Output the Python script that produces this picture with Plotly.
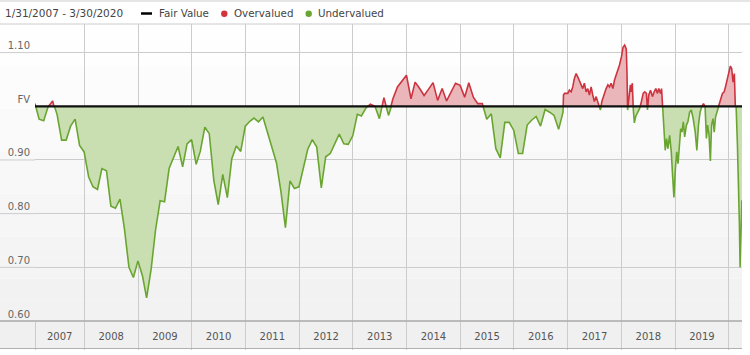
import plotly.graph_objects as go
import pandas as pd

# ---------------- data ----------------
date_range_text = "1/31/2007 - 3/30/2020"
x_start = "2007-01-31"
x_end = "2020-03-31"
fair_value = 1.0
y_min, y_max = 0.60, 1.1533

# month-end readings, Jan 2007 .. Nov 2016
monthly_first = "2007-01-31"
monthly_values = [
    1.005, 0.976, 0.973, 0.999, 1.010, 0.985, 0.937, 0.937, 0.963, 0.976, 0.927, 0.915,
    0.868, 0.850, 0.845, 0.884, 0.880, 0.814, 0.810, 0.827, 0.772, 0.700, 0.681, 0.712,
    0.684, 0.643, 0.697, 0.770, 0.824, 0.822, 0.884, 0.906, 0.925, 0.887, 0.930, 0.938,
    0.892, 0.916, 0.961, 0.949, 0.862, 0.817, 0.873, 0.830, 0.902, 0.926, 0.916, 0.963,
    0.972, 0.978, 0.971, 0.980, 0.952, 0.924, 0.895, 0.840, 0.774, 0.861, 0.847, 0.850,
    0.884, 0.920, 0.938, 0.924, 0.848, 0.906, 0.912, 0.930, 0.948, 0.930, 0.929, 0.945,
    0.985, 0.982, 0.997, 1.004, 1.000, 0.977, 1.016, 0.983, 1.014, 1.036, 1.048, 1.058,
    1.014, 1.045, 1.033, 1.020, 1.032, 1.044, 1.011, 1.033, 1.010, 1.027, 1.043, 1.039,
    1.017, 1.044, 1.017, 1.005, 1.005, 0.976, 0.986, 0.921, 0.904, 0.970, 0.970, 0.955,
    0.912, 0.912, 0.965, 0.974, 0.981, 0.963, 0.994, 0.989, 0.983, 0.957, 0.989,
]

# denser readings, Dec 2016 .. Mar 2020
recent_dates = [
    "2016-12-03", "2016-12-10", "2017-01-01", "2017-01-12", "2017-01-24", "2017-02-04",
    "2017-02-15", "2017-02-27", "2017-03-10", "2017-03-21", "2017-04-02", "2017-04-13",
    "2017-04-24", "2017-05-06", "2017-05-17", "2017-05-28", "2017-06-09", "2017-06-20",
    "2017-07-01", "2017-07-13", "2017-07-24", "2017-08-04", "2017-08-11", "2017-08-21",
    "2017-09-03", "2017-09-19", "2017-10-01", "2017-10-12", "2017-10-23", "2017-11-04",
    "2017-11-15", "2017-11-27", "2017-12-08", "2017-12-19", "2018-01-01", "2018-01-12",
    "2018-01-23", "2018-02-03", "2018-02-08", "2018-02-12", "2018-02-22", "2018-03-03",
    "2018-03-09", "2018-03-16", "2018-03-23", "2018-03-30", "2018-04-08", "2018-04-20",
    "2018-05-05", "2018-05-17", "2018-05-29", "2018-06-09", "2018-06-20", "2018-06-27",
    "2018-07-06", "2018-07-18", "2018-07-31", "2018-08-12", "2018-08-23", "2018-09-03",
    "2018-09-12", "2018-09-24", "2018-10-01", "2018-10-08", "2018-10-17", "2018-10-26",
    "2018-11-04", "2018-11-13", "2018-11-25", "2018-12-06", "2018-12-15", "2018-12-24",
    "2019-01-03", "2019-01-12", "2019-01-21", "2019-01-31", "2019-02-08", "2019-02-17",
    "2019-02-26", "2019-03-07", "2019-03-19", "2019-03-29", "2019-04-10", "2019-04-21",
    "2019-05-04", "2019-05-18", "2019-05-29", "2019-06-09", "2019-06-20", "2019-07-01",
    "2019-07-13", "2019-07-24", "2019-08-02", "2019-08-10", "2019-08-20", "2019-08-29",
    "2019-09-06", "2019-09-16", "2019-09-24", "2019-10-03", "2019-10-16", "2019-10-28",
    "2019-11-08", "2019-11-19", "2019-12-01", "2019-12-12", "2019-12-23", "2020-01-03",
    "2020-01-12", "2020-01-21", "2020-01-30", "2020-02-08", "2020-02-15", "2020-02-20",
    "2020-02-29", "2020-03-06", "2020-03-13", "2020-03-18", "2020-03-23", "2020-03-30",
]
recent_values = [
    1.021, 1.024, 1.024, 1.030, 1.027, 1.036,
    1.052, 1.061, 1.055, 1.049, 1.040, 1.033,
    1.043, 1.027, 1.033, 1.021, 1.036, 1.021,
    1.009, 1.018, 1.009, 1.002, 0.993, 1.009,
    1.021, 1.033, 1.040, 1.036, 1.043, 1.033,
    1.049, 1.058, 1.067, 1.077, 1.092, 1.110,
    1.114, 1.107, 1.061, 0.993, 1.018, 1.040,
    1.027, 1.043, 0.993, 0.969, 0.981, 0.987,
    0.996, 1.009, 1.024, 1.027, 1.024, 0.993,
    1.021, 1.030, 1.018, 1.027, 1.033, 1.024,
    1.033, 1.024, 1.033, 1.000, 0.952, 0.918,
    0.940, 0.921, 0.946, 0.915, 0.871, 0.830,
    0.884, 0.915, 0.893, 0.934, 0.958, 0.952,
    0.971, 0.943, 0.965, 0.971, 0.989, 0.993,
    0.977, 0.952, 0.918, 0.965, 0.989, 0.999,
    1.005, 0.999, 0.940, 0.965, 0.946, 0.898,
    0.965, 0.977, 0.952, 0.980, 0.993, 1.002,
    1.014, 1.024, 1.027, 1.039, 1.052, 1.064,
    1.075, 1.070, 1.045, 1.061, 1.024, 0.999,
    0.927, 0.871, 0.784, 0.700, 0.772, 0.825,
]

years = list(range(2007, 2020))
y_tick_values = [0.60, 0.70, 0.80, 0.90, 1.00, 1.10]
y_tick_labels = ["0.60", "0.70", "0.80", "0.90", "FV", "1.10"]
legend_labels = ["Fair Value", "Overvalued", "Undervalued"]

# ---------------- assemble ----------------
try:
    monthly_dates = pd.date_range(monthly_first, periods=len(monthly_values), freq="ME")
except ValueError:
    monthly_dates = pd.date_range(monthly_first, periods=len(monthly_values), freq="M")

dates = [d.strftime("%Y-%m-%d") for d in monthly_dates] + recent_dates
values = monthly_values + recent_values

bounds = [pd.Timestamp(x_start)] + [pd.Timestamp(f"{y}-01-01") for y in years[1:]] \
    + [pd.Timestamp(f"{years[-1] + 1}-01-01")]
year_mids = [bounds[i] + (bounds[i + 1] - bounds[i]) / 2 for i in range(len(years))]
year_mids = [d.strftime("%Y-%m-%d %H:%M") for d in year_mids]
sep_vals = [d.strftime("%Y-%m-%d") for d in bounds]

# ---------------- style ----------------
W, H = 750, 355
L, R, T, B = 35, 8, 24, 34
PW, PH = W - L - R, H - T - B
FONT = "DejaVu Sans"
RED_LINE, RED_FILL = "#cc3440", "#ebb6ba"
GREEN_LINE, GREEN_FILL = "#6aa532", "#c9deb1"
GRID = "#cccccc"


def px(xp):
    return (xp - L) / PW


def py(yp):
    return (H - B - yp) / PH


split = (fair_value - y_min) / (y_max - y_min)

fig = go.Figure()
# main (axes only)
fig.add_trace(go.Scatter(x=[], y=[], xaxis="x", yaxis="y", showlegend=False, hoverinfo="skip"))
# overvalued part: clipped to the area above fair value
fig.add_trace(go.Scatter(x=dates, y=values, xaxis="x2", yaxis="y2", mode="lines",
                         line=dict(color=RED_LINE, width=1.6), fill="tozeroy",
                         fillcolor=RED_FILL, showlegend=False, hoverinfo="skip"))
# undervalued part: clipped to the area below fair value
fig.add_trace(go.Scatter(x=[x_start, x_end], y=[fair_value, fair_value], xaxis="x3", yaxis="y3",
                         mode="lines", line=dict(width=0), showlegend=False, hoverinfo="skip"))
fig.add_trace(go.Scatter(x=dates, y=values, xaxis="x3", yaxis="y3", mode="lines",
                         line=dict(color=GREEN_LINE, width=1.6), fill="tonexty",
                         fillcolor=GREEN_FILL, showlegend=False, hoverinfo="skip"))
# fair value line
fig.add_trace(go.Scatter(x=[x_start, x_end], y=[fair_value, fair_value], xaxis="x4", yaxis="y4",
                         mode="lines", line=dict(color="#111111", width=2.2),
                         showlegend=False, hoverinfo="skip"))

hidden_x = dict(type="date", range=[x_start, x_end], domain=[0, 1], visible=False, fixedrange=True)

shapes = []
# background gradient (white -> light grey)
N = 14
for k in range(N):
    g = int(round(241 + (255 - 241) * (k + 0.5) / N))
    shapes.append(dict(type="rect", xref="paper", yref="paper", x0=px(0), x1=1,
                       y0=k / N, y1=(k + 1) / N, fillcolor=f"rgb({g},{g},{g})",
                       line=dict(width=0), layer="below"))
# x-axis band
shapes.append(dict(type="rect", xref="paper", yref="paper", x0=px(0), x1=1, y0=py(348.5), y1=0,
                   fillcolor="#f0f0f0", line=dict(width=0), layer="below"))
shapes.append(dict(type="line", xref="paper", yref="paper", x0=px(0), x1=1, y0=py(348.5),
                   y1=py(348.5), line=dict(color="#b0b0b0", width=1), layer="above"))
shapes.append(dict(type="line", xref="paper", yref="paper", x0=px(0), x1=1, y0=0, y1=0,
                   line=dict(color="#a8a8a8", width=1.3), layer="above"))
# gridline extensions into label area
for v in y_tick_values[1:]:
    if v == fair_value:
        continue
    shapes.append(dict(type="line", xref="paper", yref="y", x0=px(0), x1=0, y0=v, y1=v,
                       line=dict(color=GRID, width=1), layer="below"))
# header bar lines
for yy in (1, 24):
    shapes.append(dict(type="line", xref="paper", yref="paper", x0=px(0), x1=px(W), y0=py(yy),
                       y1=py(yy), line=dict(color=GRID, width=1), layer="above"))
# legend symbols
shapes.append(dict(type="line", xref="paper", yref="paper", x0=px(141), x1=px(152),
                   y0=py(13.5), y1=py(13.5), line=dict(color="#000000", width=2.5)))
for cx, col in ((224.3, "#d2343c"), (308.7, "#6aa532")):
    shapes.append(dict(type="circle", xref="paper", yref="paper", xsizemode="pixel",
                       ysizemode="pixel", xanchor=px(cx), yanchor=py(13.7), x0=-3.2, x1=3.2,
                       y0=-3.2, y1=3.2, fillcolor=col, line=dict(width=0)))

annotations = [
    dict(text=date_range_text, xref="paper", yref="paper", x=px(3), y=py(13), xanchor="left",
         yanchor="middle", showarrow=False, font=dict(family=FONT, size=10.5, color="#444444")),
]
for label, xl in zip(legend_labels, (156.5, 231.5, 315.5)):
    annotations.append(dict(text=label, xref="paper", yref="paper", x=px(xl), y=py(13),
                            xanchor="left", yanchor="middle", showarrow=False,
                            font=dict(family=FONT, size=10.3, color="#444444")))

fig.update_layout(
    width=W, height=H,
    margin=dict(l=L, r=R, t=T, b=B, pad=0),
    paper_bgcolor="white", plot_bgcolor="rgba(0,0,0,0)",
    showlegend=False, hovermode=False,
    font=dict(family=FONT, size=10, color="#555555"),
    xaxis=dict(type="date", range=[x_start, x_end], domain=[0, 1], anchor="y",
               tickmode="array", tickvals=year_mids, ticktext=[str(y) for y in years],
               ticks="outside", ticklen=6, tickcolor="rgba(0,0,0,0)",
               showgrid=False, zeroline=False, showline=False, fixedrange=True,
               tickfont=dict(family=FONT, size=10, color="#555555"),
               minor=dict(tickmode="array", tickvals=sep_vals, ticks="outside", ticklen=28,
                          tickcolor=GRID, tickwidth=1, showgrid=True, gridcolor=GRID,
                          gridwidth=1)),
    yaxis=dict(range=[y_min, y_max], domain=[0, 1], anchor="x", tickmode="array",
               tickvals=y_tick_values, ticktext=y_tick_labels, ticklabelposition="outside top",
               ticklabelstandoff=4,
               ticks="", showgrid=True, gridcolor=GRID, gridwidth=1, zeroline=False,
               showline=False, fixedrange=True,
               tickfont=dict(family=FONT, size=10, color="#666666")),
    xaxis2=dict(hidden_x, anchor="y2"),
    yaxis2=dict(range=[fair_value, y_max], domain=[split, 1], anchor="x2", visible=False,
                fixedrange=True),
    xaxis3=dict(hidden_x, anchor="y3"),
    yaxis3=dict(range=[y_min, fair_value], domain=[0, split], anchor="x3", visible=False,
                fixedrange=True),
    xaxis4=dict(hidden_x, anchor="y4"),
    yaxis4=dict(range=[y_min, y_max], domain=[0, 1], anchor="x4", visible=False,
                fixedrange=True),
    shapes=shapes,
    annotations=annotations,
)

fig.write_html(
    "out.html",
    config={"displayModeBar": False, "staticPlot": True},
    post_script="document.body.style.margin='0';document.body.style.padding='0';",
)
